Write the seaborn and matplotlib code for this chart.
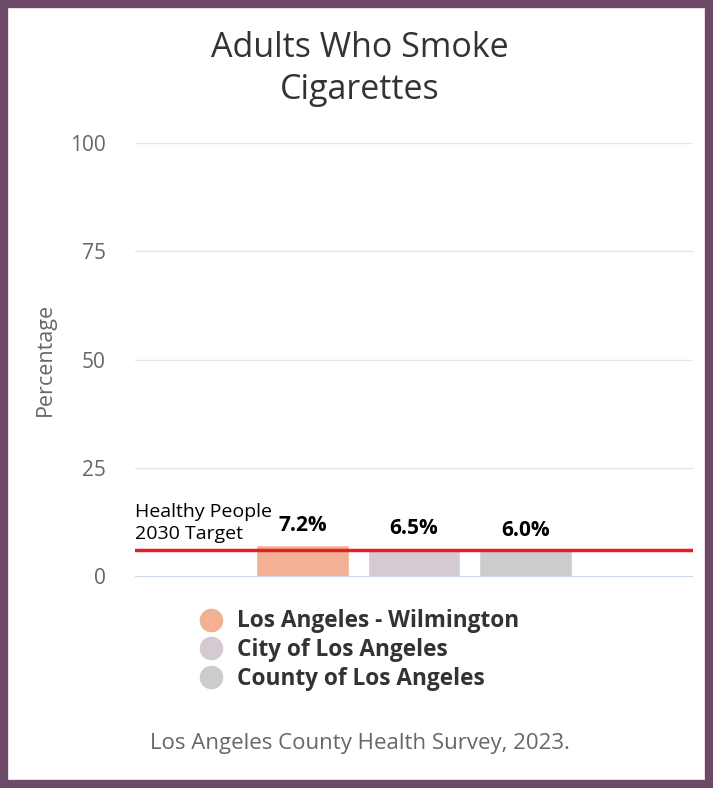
import matplotlib
matplotlib.use("Agg")
import matplotlib.pyplot as plt
import seaborn as sns
import pandas as pd
from matplotlib.lines import Line2D
from matplotlib.patches import Rectangle

# Data
areas = ["Los Angeles - Wilmington", "City of Los Angeles", "County of Los Angeles"]
values = [7.2, 6.5, 6.0]
colors = ["#f2b195", "#d4cad2", "#cccccc"]
target = 6.1
y_ticks = [0, 25, 50, 75, 100]

sns.set_theme(style="white")
plt.rcParams["font.family"] = ["Open Sans", "DejaVu Sans"]

fig = plt.figure(figsize=(7.13, 7.88), dpi=100)
ax = fig.add_axes([135 / 713, 1 - 576.5 / 788, 558 / 713, (576.5 - 143) / 788])

df = pd.DataFrame({"area": areas, "value": values})
sns.barplot(data=df, x="area", y="value", hue="area", order=areas, hue_order=areas,
            palette=colors, dodge=False, width=0.83, legend=False, ax=ax,
            saturation=1, zorder=2)

ax.set_xlim(-1.5, 3.5)
ax.set_ylim(0, 100)
ax.set_yticks(y_ticks)
ax.set_yticklabels([str(t) for t in y_ticks], color="#666666", fontsize=15)
ax.tick_params(axis="y", length=0, pad=21)
ax.set_xticks([])
ax.set_xlabel("")
ax.set_ylabel("Percentage", color="#666666", fontsize=15.5, labelpad=10)

for s in ax.spines.values():
    s.set_visible(False)
for t in y_ticks[1:]:
    ax.axhline(t, color="#e6e6e6", lw=1, zorder=0)
ax.axhline(0, color="#ccd6eb", lw=1.5, zorder=3)

# Target line
ax.axhline(target, color="#e41e26", lw=2.5, zorder=4)
ax.text(-1.5, target + 1.7, "Healthy People\n2030 Target", fontsize=14, color="black",
        ha="left", va="bottom", linespacing=1.25)

# Value labels
for i, v in enumerate(values):
    ax.text(i, v + 2.2, f"{v:.1f}%", ha="center", va="bottom", fontsize=15,
            fontweight="bold", color="black")

# Title
fig.text(0.504, 1 - 69 / 788, "Adults Who Smoke\nCigarettes", ha="center", va="center",
         fontsize=24.5, color="#333333", linespacing=1.3)

# Legend
handles = [Line2D([0], [0], marker="o", linestyle="", markersize=16,
                  markerfacecolor=c, markeredgecolor=c) for c in colors]
fig.legend(handles, areas, loc="center left", bbox_to_anchor=(186 / 713, 1 - 650 / 788),
           frameon=False, prop={"weight": "bold", "size": 16.3}, labelcolor="#333333",
           handletextpad=0.57, labelspacing=0.2, borderpad=0, handlelength=1.2)

# Source
fig.text(0.505, 1 - 743 / 788, "Los Angeles County Health Survey, 2023.", ha="center",
         va="center", fontsize=16, color="#666666")

# Border
fig.patches.append(Rectangle((4 / 713, 4 / 788), 1 - 8 / 713, 1 - 8 / 788,
                             transform=fig.transFigure, fill=False,
                             edgecolor="#6d4a68", linewidth=6, zorder=10))

fig.savefig("out.png", dpi=100)
